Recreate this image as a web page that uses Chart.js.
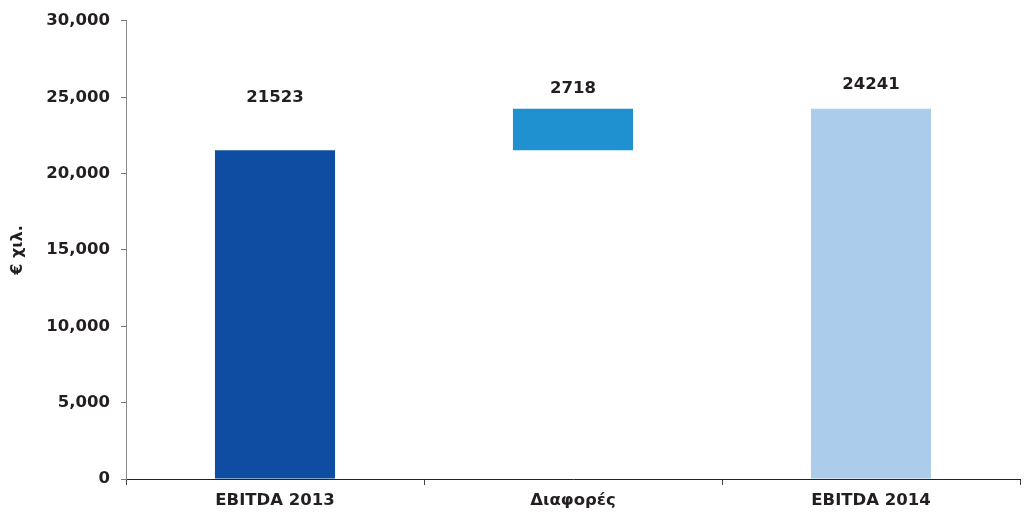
<!DOCTYPE html>
<html>
<head>
<meta charset="utf-8">
<script src="https://cdn.jsdelivr.net/npm/chart.js@4/dist/chart.umd.min.js"></script>
<style>
  html, body { margin: 0; padding: 0; background: #fff; }
  #wrap { width: 1025px; height: 528px; }
</style>
</head>
<body>
<div id="wrap"><canvas id="myChart"></canvas></div>
<script>
const categories = ['EBITDA 2013', 'Διαφορές', 'EBITDA 2014'];
const barStart = [0, 21523, 0];
const barEnd = [21523, 24241, 24241];
const barLabels = ['21523', '2718', '24241'];
const yTicks = [0, 5000, 10000, 15000, 20000, 25000, 30000];

const barColors = ['#0e4da1', '#1f91d1', '#abcdeb'];
const labelGap = [53, 20, 24]; // how far each value label floats above its bar

const FONT = '"DejaVu Sans", Verdana, sans-serif';

const valueLabels = {
  id: 'valueLabels',
  afterDatasetsDraw(chart) {
    const ctx = chart.ctx;
    const meta = chart.getDatasetMeta(0);
    ctx.save();
    ctx.font = 'bold 16.5px ' + FONT;
    ctx.fillStyle = '#231f20';
    ctx.textAlign = 'center';
    ctx.textBaseline = 'middle';
    meta.data.forEach((bar, i) => {
      ctx.fillText(barLabels[i], bar.x, bar.y - labelGap[i]);
    });
    ctx.restore();
  }
};

const ctx = document.getElementById('myChart').getContext('2d');
const myChart = new Chart(ctx, {
  type: 'bar',
  data: {
    labels: categories,
    datasets: [{
      data: barStart.map((s, i) => [s, barEnd[i]]),
      backgroundColor: barColors,
      borderWidth: 0,
      barPercentage: 0.403,
      categoryPercentage: 1
    }]
  },
  options: {
    responsive: true,
    maintainAspectRatio: false,
    animation: false,
    layout: { padding: { top: 11, right: 5, left: 0, bottom: 0 } },
    plugins: {
      legend: { display: false },
      tooltip: { enabled: false }
    },
    scales: {
      x: {
        grid: {
          display: true,
          offset: true,
          drawOnChartArea: false,
          drawTicks: true,
          tickLength: 6,
          color: '#444'
        },
        border: { display: true, color: '#222', width: 1 },
        ticks: {
          color: '#231f20',
          font: { family: FONT, size: 16.5, weight: 'bold' },
          padding: 6,
          maxRotation: 0
        },
        afterFit(scale) { scale.height = 49; }
      },
      y: {
        min: 0,
        max: 30000,
        afterBuildTicks(scale) { scale.ticks = yTicks.map(v => ({ value: v })); },
        grid: {
          display: true,
          drawOnChartArea: false,
          drawTicks: true,
          tickLength: 5,
          color: '#777'
        },
        border: { display: true, color: '#888', width: 1 },
        ticks: {
          color: '#231f20',
          font: { family: FONT, size: 16.5, weight: 'bold' },
          padding: 11,
          callback: v => v.toLocaleString('en-US')
        },
        title: {
          display: true,
          text: '€ χιλ.',
          color: '#231f20',
          font: { family: FONT, size: 16, weight: 'bold' },
          padding: { top: 8, bottom: 4 }
        },
        afterFit(scale) { scale.width = 126; }
      }
    }
  },
  plugins: [valueLabels]
});
</script>
</body>
</html>
